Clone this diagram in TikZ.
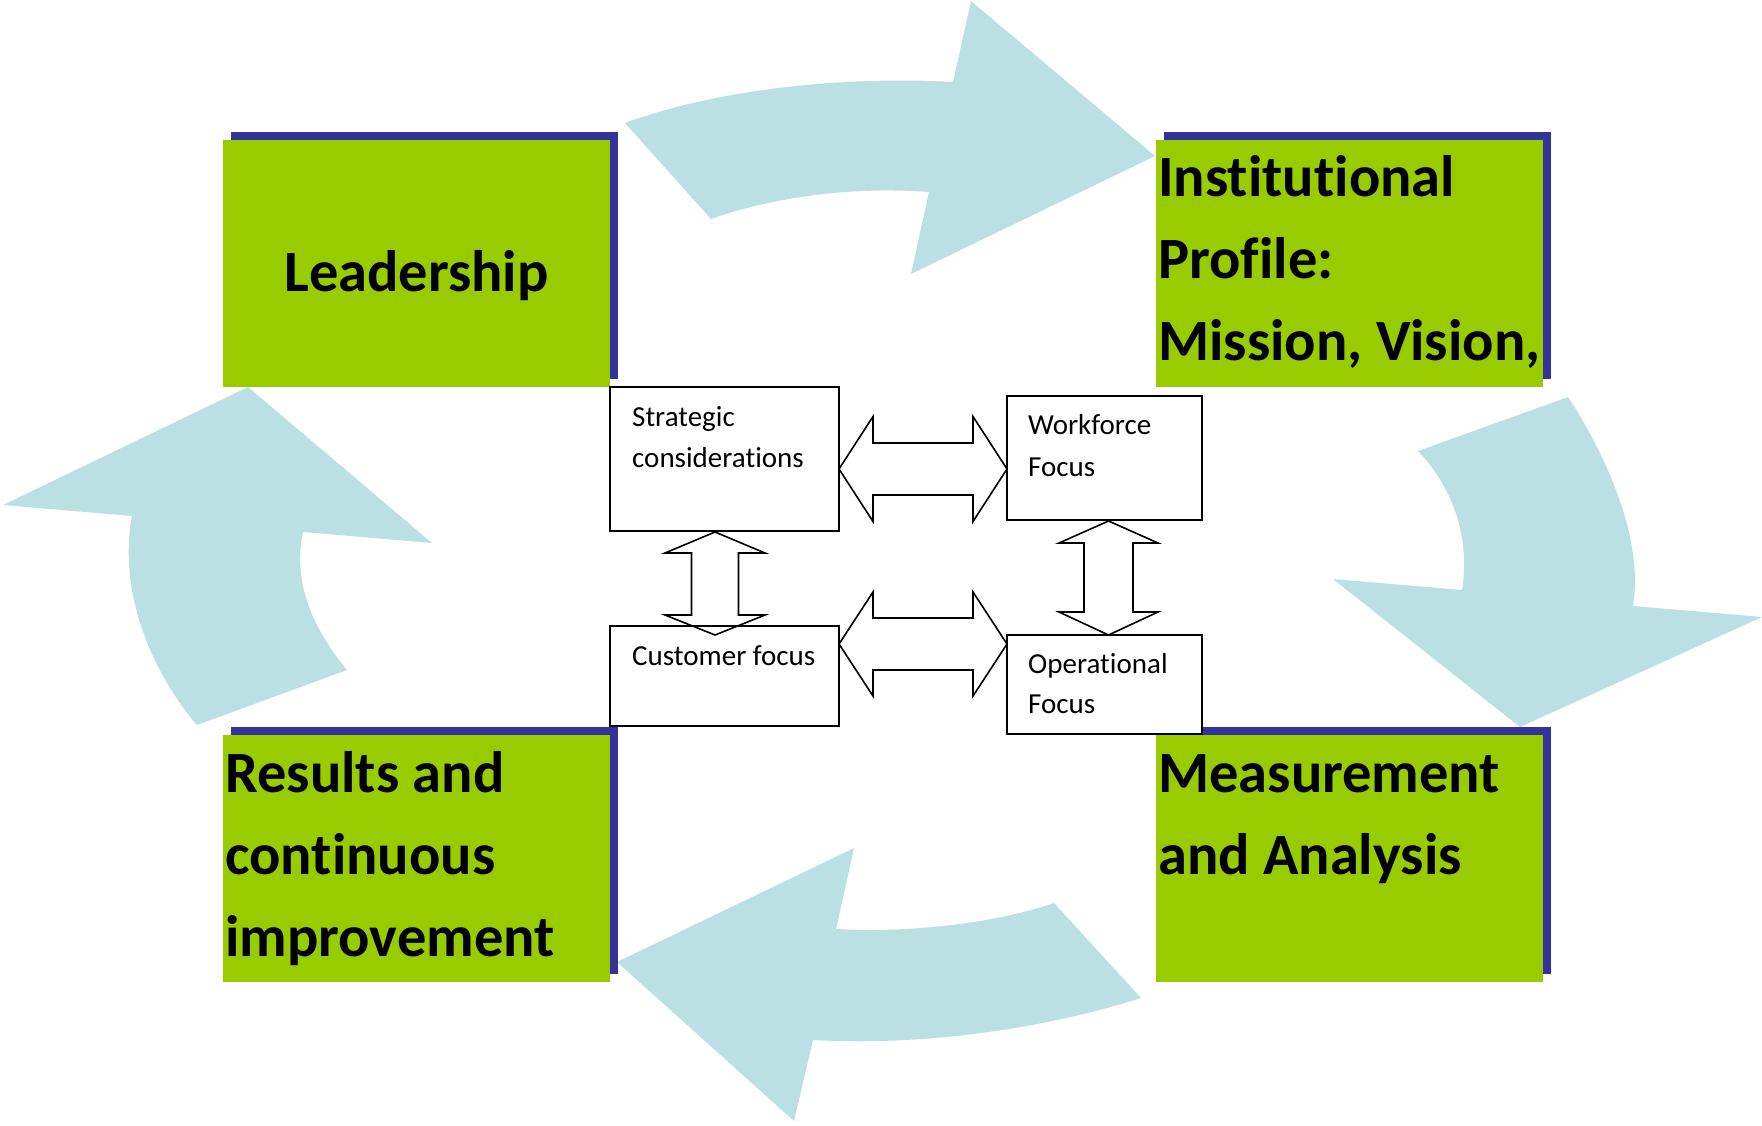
\documentclass[tikz,border=0pt]{standalone}
\usepackage{fontspec}
\setmainfont{Carlito}[Ligatures={NoCommon}]
\usetikzlibrary{shadows,calc}
\definecolor{leafgreen}{HTML}{99CC00}
\definecolor{shadeblue}{HTML}{333399}
\definecolor{flowblue}{HTML}{BBE0E3}

\begin{document}
\begin{tikzpicture}[x=1pt,y=-1pt,
  stage/.style={fill=leafgreen, draw=none, minimum width=387pt, minimum height=247pt,
    inner sep=0pt, outer sep=0pt,
    general shadow={fill=shadeblue, shadow xshift=8pt, shadow yshift=8pt}},
  big/.style={font=\bfseries\fontsize{58.5}{82}\selectfont, inner sep=0pt, anchor=base west},
  part/.style={draw=black, line width=1.8pt, fill=white, inner sep=0pt, outer sep=0pt},
  small/.style={font=\fontsize{29}{41}\selectfont, inner sep=0pt, anchor=base west},
  flow/.style={fill=flowblue, draw=none},
  hollow/.style={draw=black, line width=1.6pt, fill=none, line join=miter}
]
\useasboundingbox (0,0) rectangle (1762,1125);

% curved cycle arrows
\fill[flow] (625,123) .. controls (720,88) and (850,76) .. (953,82) -- (971,1) -- (1155,156)
  -- (911,274) -- (929,192) .. controls (850,186) and (770,198) .. (711,219) -- cycle;
\fill[flow] (1418,451) -- (1568,397) .. controls (1600,445) and (1645,535) .. (1633,606)
  -- (1762,617) -- (1520,727) -- (1333,579) -- (1462,590)
  .. controls (1470,540) and (1455,490) .. (1418,451) -- cycle;
\fill[flow] (1054,903) -- (1141,998) .. controls (1040,1030) and (920,1046) .. (813,1040)
  -- (794,1121) -- (617,962) -- (854,848) -- (836,929)
  .. controls (900,933) and (990,925) .. (1054,903) -- cycle;
\fill[flow] (197,725) .. controls (150,670) and (118,590) .. (132,516) -- (3,505) -- (248,387)
  -- (432,543) -- (303,532) .. controls (293,580) and (310,625) .. (347,670) -- cycle;

% main stages
\node[stage] (lead) at (416.5,263.5) {};
\node[stage] (inst) at (1349.5,263.5) {};
\node[stage] (res)  at (416.5,858.5) {};
\node[stage] (meas) at (1349.5,858.5) {};

\node[big, anchor=base] (leadtxt) at ($(lead.north)+(0,151)$) {Leadership};
\node[big] (inst1) at ($(inst.north west)+(2,56)$) {Institutional};
\node[big] (inst2) at ($(inst.north west)+(2,138)$) {Profile:};
\node[big] (inst3) at ($(inst.north west)+(2,220)$) {Mission, Vision,};
\node[big] (res1) at ($(res.north west)+(2,57)$) {Results and};
\node[big] (res2) at ($(res.north west)+(2,139)$) {continuous};
\node[big] (res3) at ($(res.north west)+(2,221)$) {improvement};
\node[big] (meas1) at ($(meas.north west)+(2,57)$) {Measurement};
\node[big] (meas2) at ($(meas.north west)+(2,139)$) {and Analysis};

% central focus areas
\node[part, minimum width=229pt, minimum height=144pt] (strat) at (724.5,459) {};
\node[part, minimum width=195pt, minimum height=124pt] (work)  at (1104.5,458) {};
\node[part, minimum width=229pt, minimum height=100pt] (cust)  at (724.5,676) {};
\node[part, minimum width=195pt, minimum height=99pt]  (oper)  at (1104.5,684.5) {};

\node[small] (strat1) at ($(strat.north west)+(22,39)$) {Strategic};
\node[small] (strat2) at ($(strat.north west)+(22,80)$) {considerations};
\node[small] (work1) at ($(work.north west)+(21,38)$) {Workforce};
\node[small] (work2) at ($(work.north west)+(21,80)$) {Focus};
\node[small] (cust1) at ($(cust.north west)+(22,39)$) {Customer focus};
\node[small] (oper1) at ($(oper.north west)+(21,38)$) {Operational};
\node[small] (oper2) at ($(oper.north west)+(21,78)$) {Focus};

% hollow two-way links
\draw[hollow] ($(strat.east)+(0,10)$) -- ++(34,-52.5) -- ++(0,26.5) -- ++(100,0) -- ++(0,-26.5)
  -- ++(34,52.5) -- ++(-34,52.5) -- ++(0,-26.5) -- ++(-100,0) -- ++(0,26.5) -- cycle;
\draw[hollow] ($(cust.east)+(0,-32)$) -- ++(34,-52) -- ++(0,26) -- ++(100,0) -- ++(0,-26)
  -- ++(34,52) -- ++(-34,52) -- ++(0,-26) -- ++(-100,0) -- ++(0,26) -- cycle;
\draw[hollow] ($(strat.south)+(-9.5,1)$) -- ++(50,21) -- ++(-26.5,0) -- ++(0,62) -- ++(26.5,0)
  -- ++(-50,20) -- ++(-50,-20) -- ++(26.5,0) -- ++(0,-62) -- ++(-26.5,0) -- cycle;
\draw[hollow] ($(work.south)+(4,1)$) -- ++(49.5,22) -- ++(-25,0) -- ++(0,69) -- ++(25,0)
  -- ++(-49.5,23) -- ++(-49.5,-23) -- ++(25,0) -- ++(0,-69) -- ++(-25,0) -- cycle;
\end{tikzpicture}
\end{document}
